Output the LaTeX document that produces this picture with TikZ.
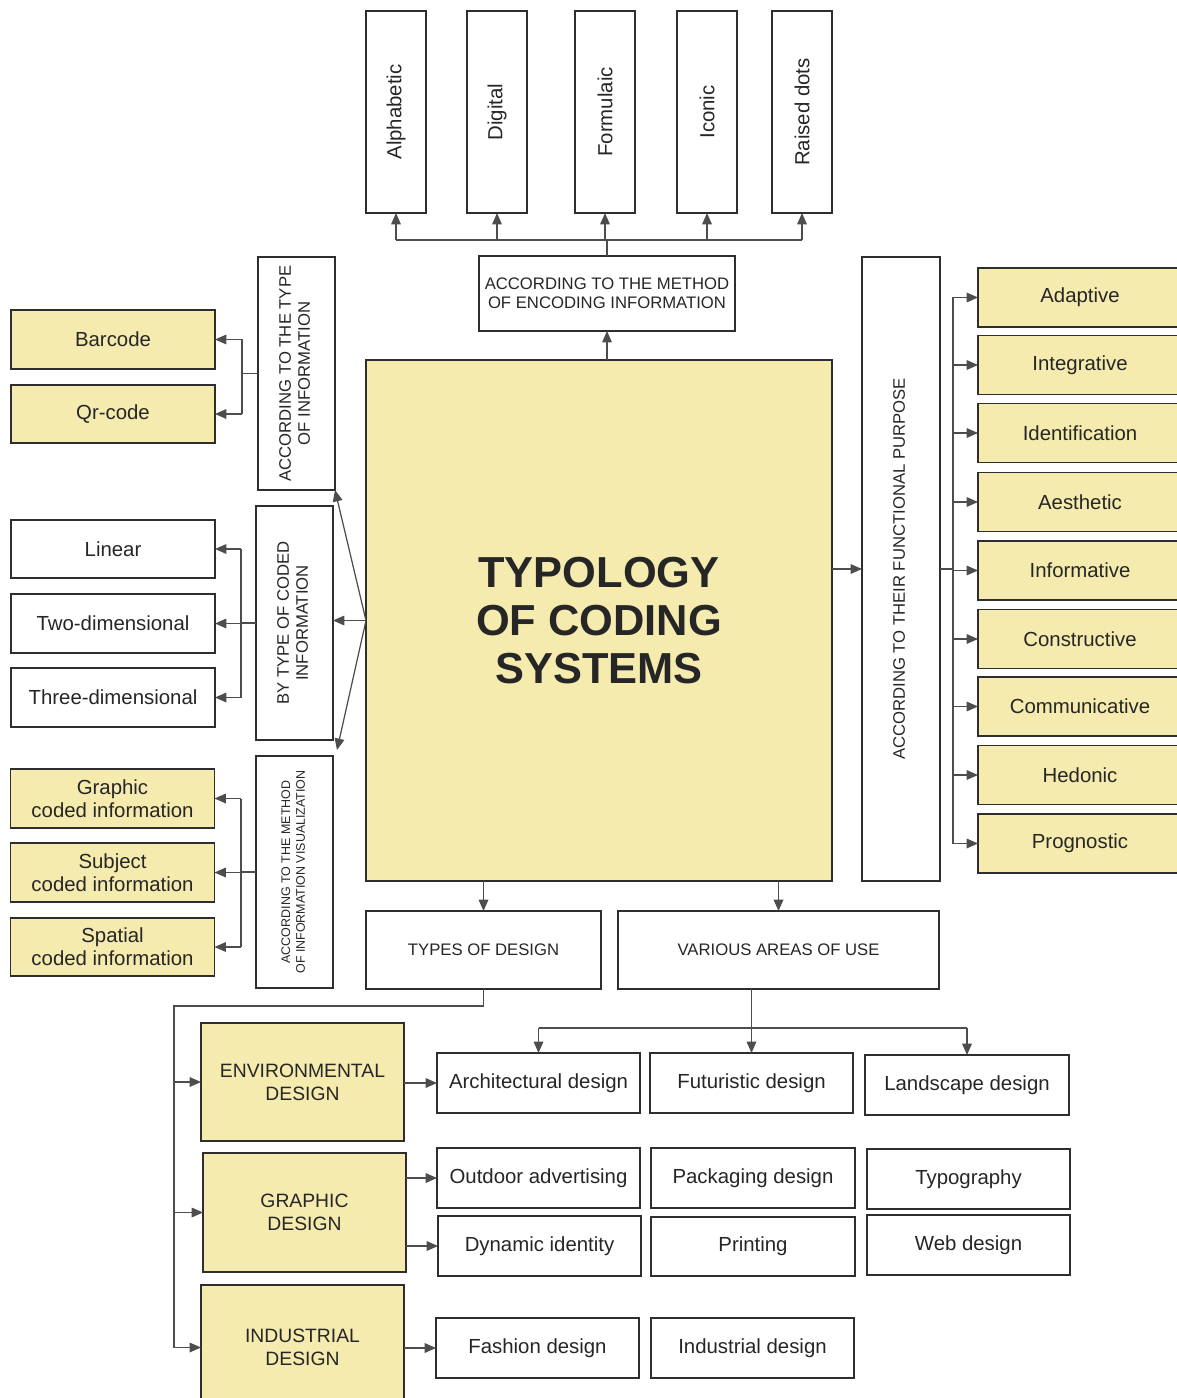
\documentclass[tikz,border=0pt]{standalone}
\usepackage{fontspec}
\setmainfont{Liberation Sans}
\usepackage{tikz}
\usetikzlibrary{arrows.meta,calc}
\definecolor{boxyellow}{HTML}{F6EBAE}
\definecolor{boxline}{HTML}{2E2E2E}
\definecolor{conline}{HTML}{4D4D4D}
\definecolor{txt}{HTML}{262626}
\newcommand{\vlabel}[1]{\rotatebox{90}{\begin{tabular}{@{}c@{}}#1\end{tabular}}}
\tikzset{
  sz/.style 2 args={minimum width=#1*0.02cm, minimum height=#2*0.02cm},
  plainbox/.style={draw=boxline, line width=1.1pt, fill=white, inner sep=0pt, outer sep=0pt,
    text=txt, align=center, font=\fontsize{11.6}{13}\selectfont},
  yellowbox/.style={plainbox, fill=boxyellow},
  capsbox/.style={plainbox, font=\fontsize{9.5}{10.8}\selectfont},
  designbox/.style={yellowbox, font=\fontsize{11}{13}\selectfont},
  con/.style={draw=conline, line width=0.7pt},
  arr/.style={con, -{Triangle[length=6.5pt,width=5.5pt]}},
}

\begin{document}
\begin{tikzpicture}[x=0.02cm, y=-0.02cm]
\fill[white] (0,0) rectangle (1176,1398);
\useasboundingbox (0,0) rectangle (1176,1398);

\node[yellowbox, sz={466}{521}, font=\bfseries\fontsize{24.7}{27.2}\selectfont] (typology) at (599,620.5) {TYPOLOGY\\OF CODING\\SYSTEMS};

\foreach \name/\x/\word in {alpha/396/Alphabetic, digital/497/Digital, formulaic/605/Formulaic, iconic/707/Iconic, raised/802/Raised dots}
  \node[plainbox, sz={60}{202}] (\name) at (\x,112) {\rotatebox{90}{\word}};

\node[capsbox, sz={256}{75}] (encode) at (607,293.5) {ACCORDING TO THE METHOD\\OF ENCODING INFORMATION};
\coordinate (topbus) at (607,240);
\draw[arr] (encode.south |- typology.north) -- (encode.south);
\draw[con] (encode.north) -- (topbus);
\draw[con] (topbus -| alpha) -- (topbus -| raised);
\foreach \name in {alpha,digital,formulaic,iconic,raised}
  \draw[arr] (topbus -| \name) -- (\name.south);

\node[capsbox, sz={77}{233}] (typeinfo) at (296.5,373.5) {\vlabel{ACCORDING TO THE TYPE\\OF INFORMATION}};
\node[capsbox, sz={77}{234}] (codedinfo) at (294.5,623) {\vlabel{BY TYPE OF CODED\\INFORMATION}};
\node[capsbox, sz={77}{232}, font=\fontsize{7.1}{8.5}\selectfont] (visinfo) at (294.5,872) {\vlabel{ACCORDING TO THE METHOD\\OF INFORMATION VISUALIZATION}};
\draw[arr] (typology.west) -- (typeinfo.south east);
\draw[arr] (typology.west) -- (typology.west -| codedinfo.east);
\draw[arr] (typology.west) -- ([shift={(4,-6)}]visinfo.north east);

\node[yellowbox, sz={204}{59}] (barcode) at (113,339.5) {Barcode};
\node[yellowbox, sz={204}{58}] (qrcode) at (113,414) {Qr-code};
\coordinate (typebus) at (242,373.5);
\draw[con] (typeinfo.west) -- (typebus);
\draw[con] (typebus |- barcode.east) -- (typebus |- qrcode.east);
\foreach \name in {barcode,qrcode}
  \draw[arr] (typebus |- \name.east) -- (\name.east);

\node[plainbox, sz={204}{58}] (linear) at (113,549) {Linear};
\node[plainbox, sz={204}{59}] (twodim) at (113,623.5) {Two-dimensional};
\node[plainbox, sz={204}{59}] (threedim) at (113,697.5) {Three-dimensional};
\coordinate (codedbus) at (241,623);
\draw[con] (codedinfo.west) -- (codedbus);
\draw[con] (codedbus |- linear.east) -- (codedbus |- threedim.east);
\foreach \name in {linear,twodim,threedim}
  \draw[arr] (codedbus |- \name.east) -- (\name.east);

\node[yellowbox, sz={204}{59}] (graphcoded) at (112.5,798.5) {Graphic\\coded information};
\node[yellowbox, sz={204}{59}] (subjcoded) at (112.5,872.5) {Subject\\coded information};
\node[yellowbox, sz={204}{58}] (spatcoded) at (112.5,947) {Spatial\\coded information};
\coordinate (visbus) at (241,872);
\draw[con] (visinfo.west) -- (visbus);
\draw[con] (visbus |- graphcoded.east) -- (visbus |- spatcoded.east);
\foreach \name in {graphcoded,subjcoded,spatcoded}
  \draw[arr] (visbus |- \name.east) -- (\name.east);

\node[capsbox, sz={78}{624}] (purpose) at (901,569) {\vlabel{ACCORDING TO THEIR FUNCTIONAL PURPOSE}};
\draw[arr] (typology.east |- purpose.west) -- (purpose.west);
\foreach \name/\y/\word in {adaptive/297.5/Adaptive, integrative/365/Integrative, identific/433/Identification,
    aesthetic/502/Aesthetic, informative/570.5/Informative, constructive/639/Constructive,
    communic/706.5/Communicative, hedonic/775/Hedonic, prognostic/843.5/Prognostic}
  \node[yellowbox, sz={204}{59}] (\name) at (1080,\y) {\word};
\coordinate (purposebus) at (953,569);
\draw[con] (purpose.east) -- (purposebus);
\draw[con] (purposebus |- adaptive.west) -- (purposebus |- prognostic.west);
\foreach \name in {adaptive,integrative,identific,aesthetic,informative,constructive,communic,hedonic,prognostic}
  \draw[arr] (purposebus |- \name.west) -- (\name.west);

\node[capsbox, sz={235}{78}] (types) at (483.5,950) {TYPES OF DESIGN};
\node[capsbox, sz={321}{78}] (areas) at (778.5,950) {VARIOUS AREAS OF USE};
\draw[arr] (typology.south -| types) -- (types.north);
\draw[arr] (typology.south -| areas) -- (areas.north);

\node[designbox, sz={203}{118}] (envdesign) at (302.5,1082) {ENVIRONMENTAL\\DESIGN};
\node[designbox, sz={203}{119}] (graphdesign) at (304.5,1212.5) {GRAPHIC\\DESIGN};
\node[designbox, sz={203}{125}] (inddesign) at (302.5,1347.5) {INDUSTRIAL\\DESIGN};
\coordinate (typesbus) at (174,1006);
\draw[con] (types.south) |- (typesbus) -- (typesbus |- inddesign.west);
\foreach \name in {envdesign,graphdesign,inddesign}
  \draw[arr] (typesbus |- \name.west) -- (\name.west);

\node[plainbox, sz={203}{60}] (architect) at (538.5,1083) {Architectural design};
\node[plainbox, sz={203}{60}] (futuristic) at (751.5,1083) {Futuristic design};
\node[plainbox, sz={204}{60}] (landscape) at (967,1085) {Landscape design};
\node[plainbox, sz={203}{60}] (outdoor) at (538.5,1178) {Outdoor advertising};
\node[plainbox, sz={203}{60}] (dynamic) at (539.5,1246) {Dynamic identity};
\node[plainbox, sz={204}{60}] (packaging) at (753,1178) {Packaging design};
\node[plainbox, sz={204}{59}] (printing) at (753,1246.5) {Printing};
\node[plainbox, sz={203}{60}] (typography) at (968.5,1179) {Typography};
\node[plainbox, sz={203}{60}] (webdesign) at (968.5,1245) {Web design};
\node[plainbox, sz={203}{60}] (fashion) at (537.5,1348) {Fashion design};
\node[plainbox, sz={203}{60}] (industrial) at (752.5,1348) {Industrial design};

\coordinate (areasbus) at (750,1028);
\draw[arr] (futuristic.north |- areas.south) -- (futuristic.north);
\draw[con] (architect.north |- areasbus) -- (landscape.north |- areasbus);
\draw[arr] (architect.north |- areasbus) -- (architect.north);
\draw[arr] (landscape.north |- areasbus) -- (landscape.north);

\draw[arr] (envdesign.east |- architect.west) -- (architect.west);
\draw[arr] (graphdesign.east |- outdoor.west) -- (outdoor.west);
\draw[arr] (graphdesign.east |- dynamic.west) -- (dynamic.west);
\draw[arr] (inddesign.east |- fashion.west) -- (fashion.west);
\end{tikzpicture}
\end{document}
